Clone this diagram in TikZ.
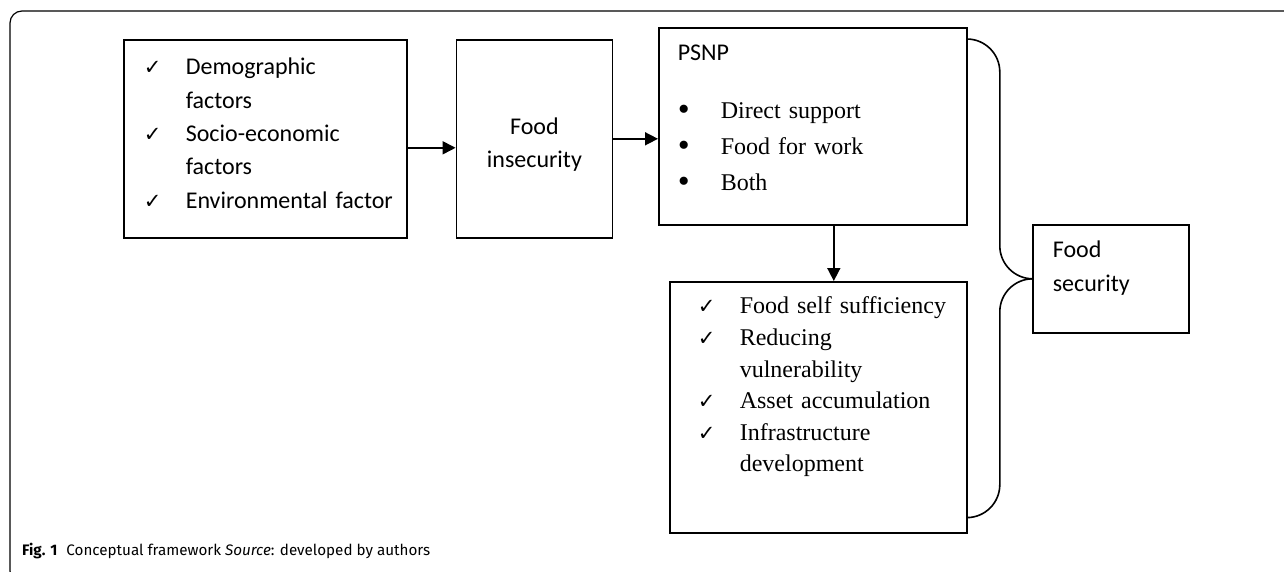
\documentclass[tikz,border=0pt]{standalone}
\usepackage{fontspec}
\setmainfont{Carlito}
\newfontfamily\timesfont{Liberation Serif}
\newfontfamily\captionfont{Fira Sans}
\newfontfamily\symfont{DejaVu Sans}
\usetikzlibrary{arrows.meta,calc,positioning}
\newcommand{\markcol}[3]{\makebox[#1][l]{\hspace*{#2}#3}}
\newcommand{\tick}{{\symfont\fontsize{21}{21}\selectfont ✓}}
\newcommand{\dotmark}{{\timesfont\fontsize{34}{34}\selectfont\raisebox{-1.5pt}{\textbullet}}}
\tikzset{
  frame line/.style={
    draw=black,
    line width=1.2pt,
    rounded corners=12pt
  },
  plain box/.style={
    draw=black,
    line width=1.6pt,
    inner sep=0pt,
    align=left,
    font=\fontsize{24}{33.3}\selectfont
  },
  list box/.style={
    plain box,
    font=\timesfont\fontsize{24}{31.6}\selectfont
  },
  flow edge/.style={
    -{Triangle[length=13pt,width=13pt]},
    line width=1.6pt
  },
  brace edge/.style={
    line width=1.6pt,
    rounded corners=33pt
  },
  caption text/.style={
    font=\captionfont\fontsize{15.2}{18}\selectfont,
    inner sep=0pt
  }
}

\begin{document}
\begin{tikzpicture}[x=1pt,y=-1pt]
  \clip (0,0) rectangle (1284,571);
  \draw[frame line] (1300,11) -| (10,583) -- (1300,583);

  \node[plain box,anchor=north west,text width=283pt,
        text height=35pt,text depth=163pt] (factors) at (123,39) {
    \markcol{62pt}{20pt}{\tick}Demographic\\
    \hspace*{62pt}factors\\
    \markcol{62pt}{20pt}{\tick}Socio-economic\\
    \hspace*{62pt}factors\\
    \markcol{62pt}{20pt}{\tick}Environmental factor
  };
  \node[plain box,align=center,text width=156pt,
        text height=94.3pt,text depth=103.7pt,right=48pt of factors] (insecurity) {
    Food\\
    insecurity
  };

  \node[plain box,anchor=north west,text width=270pt,inner xsep=19pt,
        text height=33pt,text depth=164pt] (psnp) at (658,27) {
    PSNP\par\vspace{22pt}
    {\timesfont\fontsize{24}{36}\selectfont
    \markcol{43pt}{0pt}{\dotmark}Direct support\\
    \markcol{43pt}{0pt}{\dotmark}Food for work\\
    \markcol{43pt}{0pt}{\dotmark}Both\par}
  };
  \node[list box,anchor=north west,text width=297pt,
        text height=32pt,text depth=219pt] (outcome) at (669,281) {
    \markcol{70pt}{28pt}{\tick}Food self sufficiency\\
    \markcol{70pt}{28pt}{\tick}Reducing\\
    \hspace*{70pt}vulnerability\\
    \markcol{70pt}{28pt}{\tick}Asset accumulation\\
    \markcol{70pt}{28pt}{\tick}Infrastructure\\
    \hspace*{70pt}development
  };

  \node[plain box,anchor=north west,text width=156pt,
        text height=33pt,text depth=75pt] (foodsec) at (1032,224) {
    \hspace*{20pt}Food\\
    \hspace*{20pt}security
  };

  \draw[flow edge] ([yshift=-9pt]factors.east) -- ([yshift=-9pt]insecurity.west);
  \draw[flow edge] (insecurity.east) -- (insecurity.east -| psnp.west);
  \draw[flow edge] ([xshift=21pt]psnp.south) -- ([xshift=21pt]psnp.south |- outcome.north);

  \coordinate (spine) at ($(psnp.east)!0.5!(foodsec.west)$);
  \coordinate (braceTop) at ([yshift=-12pt]psnp.north east);
  \coordinate (braceBottom) at ([yshift=16pt]outcome.south east);
  \draw[brace edge] (braceTop) -| (spine |- foodsec.west) -- (foodsec.west);
  \draw[brace edge] (foodsec.west) -- (spine |- foodsec.west) |- (braceBottom);

  \node[caption text,anchor=base west] (caption) at (22,555) {
    \textbf{Fig. 1}\hspace{0.6em}Conceptual framework \textit{Source}: developed by authors
  };
\end{tikzpicture}
\end{document}
